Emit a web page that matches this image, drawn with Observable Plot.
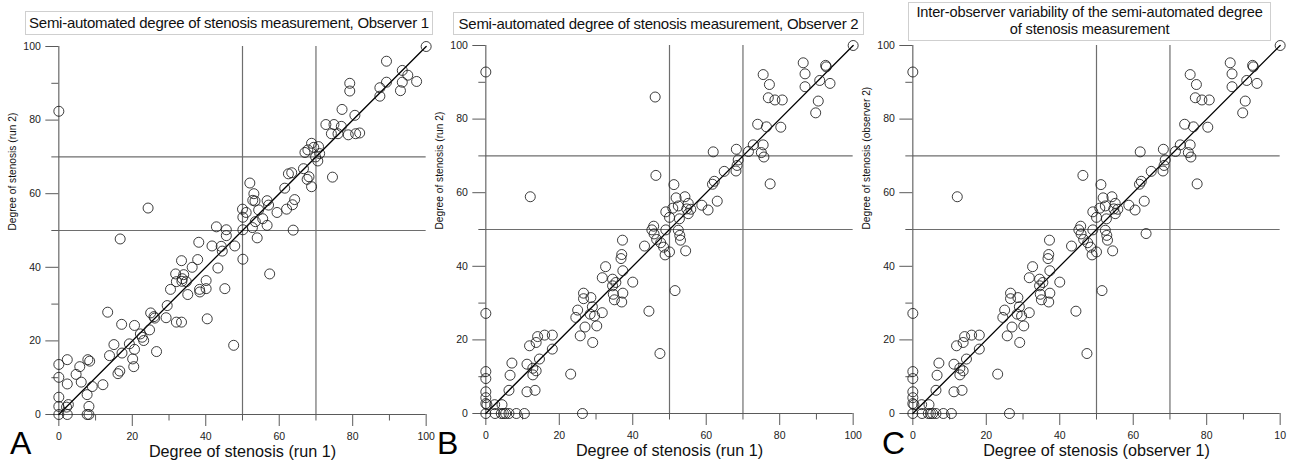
<!DOCTYPE html>
<html>
<head>
<meta charset="utf-8">
<script src="https://cdn.jsdelivr.net/npm/d3@7"></script>
<script src="https://cdn.jsdelivr.net/npm/@observablehq/plot@0.6"></script>
<style>
  html, body { margin: 0; padding: 0; background: #fff; }
  #wrap { position: relative; width: 1291px; height: 468px; overflow: hidden; font-family: "Liberation Sans", Arial, Helvetica, sans-serif; }
  .panel { position: absolute; }
  .title { position: absolute; box-sizing: border-box; border: 1px solid #cfcfcf; background: #fff; color: #111;
           font-size: 15px; letter-spacing: -0.27px; text-align: center; white-space: nowrap; }
  .letter { position: absolute; font-size: 32px; line-height: 32px; color: #000; }
</style>
</head>
<body>
<div id="wrap"></div>
<script>
// ---------- data ----------
// Panel A: Observer 1, run 1 (x) vs run 2 (y)
const obs1Run1 = [0,24.3,16.7,100,89.2,93.5,95.0,97.4,89.2,93.5,93.0,87.4,87.4,79.2,79.2,77.1,80.6,
  72.7,74.9,76.9,74.2,76.0,78.8,80.8,81.9,68.8,70.7,69.4,67.8,67.0,71.0,69.9,70.5,
  74.5,66.6,68.1,67.6,68.8,62.5,63.4,61.5,64.2,63.6,62.0,59.4,63.8,
  56.7,57.1,54.4,55.5,56.7,52.0,53.1,52.8,53.4,50.0,51.0,50.1,53.5,52.7,50.1,54.0,
  42.9,45.6,45.6,38.1,41.7,44.2,44.5,47.9,50.1,57.4,
  33.4,36.3,37.8,31.8,34.0,32.0,33.6,33.5,34.7,30.4,35.1,38.3,38.4,40.1,40.1,43.3,45.2,
  29.5,29.2,32.0,33.4,40.4,47.6,25.0,25.9,26.1,24.7,
  13.3,17.1,20.6,22.2,22.7,23.1,26.6,15.0,13.8,19.2,20.6,17.2,20.1,20.4,16.6,16.1,
  0,2.3,0,2.3,5.7,4.7,6.1,7.9,8.4,9.1,12.0,7.7,8.2,0,0,0,2.3,2.6,2.1,7.7,8.2];
const obs1Run2 = [82.4,56.1,47.7,100,96.0,93.5,92.2,90.5,90.3,90.3,88.0,88.8,86.5,90.0,87.9,82.9,81.3,
  78.8,78.8,78.3,76.3,76.3,76.0,76.3,76.5,73.7,72.8,72.6,71.9,71.2,70.9,70.0,68.9,
  64.5,66.8,64.6,63.9,61.9,65.4,65.7,61.5,58.4,57.0,55.8,54.9,50.1,
  58.1,56.9,55.6,53.2,51.4,62.9,60.0,58.2,58.0,55.8,54.9,53.6,52.4,50.8,50.2,48.0,
  51.0,50.2,48.6,46.8,45.8,45.7,44.4,45.8,42.2,38.2,
  41.8,40.0,42.1,38.2,38.0,36.1,36.9,36.2,36.1,34.0,32.6,34.0,33.3,36.4,34.2,39.8,34.2,
  29.6,26.3,25.1,25.1,26.0,18.8,27.6,26.6,26.2,23.0,
  27.8,24.5,24.2,21.9,21.0,20.1,17.1,19.0,16.0,19.2,17.7,16.7,15.1,13.0,11.8,11.1,
  13.6,14.9,10.1,8.3,13.0,10.9,8.8,14.9,14.5,7.6,8.1,5.4,2.2,4.7,2.2,0,0,2.7,2.0,0,0];

// Panel B: Observer 2, run 1 (x) vs run 2 (y)
const obs2Run1 = [0,46.1,12.1,46.3,100,86.4,86.9,86.9,92.5,92.7,90.9,93.7,90.5,89.8,
  75.5,77.2,76.9,78.7,80.7,80.3,74.0,76.4,72.8,75.5,71.5,75.0,75.7,77.4,
  68.2,61.9,68.7,68.4,68.1,64.9,62.2,61.7,63.0,58.8,60.5,
  51.2,51.8,54.2,55.1,52.4,50.9,54.7,55.8,55.1,49.0,50.0,52.7,
  45.7,45.2,45.8,49.0,52.4,52.8,53.0,54.4,
  37.2,43.2,46.5,47.6,48.4,48.8,50.0,51.5,44.4,47.4,40.0,
  37.0,36.8,37.3,32.6,31.7,34.5,35.4,34.5,34.7,35.0,37.3,37.0,
  26.6,26.6,28.6,29.0,28.4,29.6,31.7,30.2,29.1,25.0,24.5,27.0,25.7,23.1,26.3,
  14.1,16.0,18.1,11.9,13.7,18.1,14.6,11.2,12.8,13.7,12.8,11.2,13.4,7.1,6.6,6.3,
  0,0,0,0,0,0,0.3,0,2.4,4.4,2.5,4.2,4.8,5.4,6.3,8.3,10.5];
const obs2Run2 = [92.8,86.0,58.9,64.7,100,95.3,92.3,88.8,94.6,94.2,90.5,89.7,84.9,81.7,
  92.1,89.4,85.8,85.2,85.2,77.8,78.6,77.9,73.0,73.0,71.2,70.9,69.7,62.4,
  71.8,71.1,68.9,67.4,65.9,65.8,63.1,62.3,57.7,56.6,55.3,
  62.2,58.6,58.9,57.1,56.4,55.8,55.6,55.5,54.3,54.8,53.3,52.9,
  50.9,49.9,48.8,49.9,49.8,48.4,47.1,44.2,
  47.1,45.5,47.3,46.4,45.2,43.1,43.9,33.4,27.8,16.3,35.7,
  43.2,42.1,38.8,39.9,36.9,36.5,35.6,34.7,32.4,30.9,32.7,30.3,
  32.7,31.2,31.5,29.0,27.0,26.5,27.4,23.8,19.3,28.1,26.1,23.5,21.1,10.7,0,
  20.9,21.3,21.3,18.4,19.3,17.5,14.8,13.4,12.3,11.6,10.5,5.9,6.3,13.7,10.4,6.3,
  27.2,11.4,9.5,5.9,4.3,2.7,2.4,0,2.4,2.4,0,0,0,0,0,0,0];

// Panel C: inter-observer, observer 1 (x) vs observer 2 (y)
const interObs1 = [0,63.5,12.1,46.3,100,86.4,86.9,86.9,92.5,92.7,90.9,93.7,90.5,89.8,
  75.5,77.2,76.9,78.7,80.7,80.3,74.0,76.4,72.8,75.5,71.5,75.0,75.7,77.4,
  68.2,61.9,68.7,68.4,68.1,64.9,62.2,61.7,63.0,58.8,60.5,
  51.2,51.8,54.2,55.1,52.4,50.9,54.7,55.8,55.1,49.0,50.0,52.7,
  45.7,45.2,45.8,49.0,52.4,52.8,53.0,54.4,
  37.2,43.2,46.5,47.6,48.4,48.8,50.0,51.5,44.4,47.4,40.0,
  37.0,36.8,37.3,32.6,31.7,34.5,35.4,34.5,34.7,35.0,37.3,37.0,
  26.6,26.6,28.6,29.0,28.4,29.6,31.7,30.2,29.1,25.0,24.5,27.0,25.7,23.1,26.3,
  14.1,16.0,18.1,11.9,13.7,18.1,14.6,11.2,12.8,13.7,12.8,11.2,13.4,7.1,6.6,6.3,
  0,0,0,0,0,0,0.3,0,2.4,4.4,2.5,4.2,4.8,5.4,6.3,8.3,10.5];
const interObs2 = [92.8,48.9,58.9,64.7,100,95.3,92.3,88.8,94.6,94.2,90.5,89.7,84.9,81.7,
  92.1,89.4,85.8,85.2,85.2,77.8,78.6,77.9,73.0,73.0,71.2,70.9,69.7,62.4,
  71.8,71.1,68.9,67.4,65.9,65.8,63.1,62.3,57.7,56.6,55.3,
  62.2,58.6,58.9,57.1,56.4,55.8,55.6,55.5,54.3,54.8,53.3,52.9,
  50.9,49.9,48.8,49.9,49.8,48.4,47.1,44.2,
  47.1,45.5,47.3,46.4,45.2,43.1,43.9,33.4,27.8,16.3,35.7,
  43.2,42.1,38.8,39.9,36.9,36.5,35.6,34.7,32.4,30.9,32.7,30.3,
  32.7,31.2,31.5,29.0,27.0,26.5,27.4,23.8,19.3,28.1,26.1,23.5,21.1,10.7,0,
  20.9,21.3,21.3,18.4,19.3,17.5,14.8,13.4,12.3,11.6,10.5,5.9,6.3,13.7,10.4,6.3,
  27.2,11.4,9.5,5.9,4.3,2.7,2.4,0,2.4,2.4,0,0,0,0,0,0,0];

const majorTicks = [0, 20, 40, 60, 80, 100];
const minorTicks = [10, 30, 50, 70, 90];
const tickLabels = ["0", "20", "40", "60", "80", "100"];
const tickLabelsC = ["0", "20", "40", "60", "80", "10"];
const thresholds = [50, 70];
const identity = [0, 100];

const titles = [
  "Semi-automated degree of stenosis measurement, Observer 1",
  "Semi-automated degree of stenosis measurement, Observer 2",
  "Inter-observer variability of the semi-automated degree<br>of stenosis measurement"
];
const xTitles = ["Degree of stenosis (run 1)", "Degree of stenosis (run 1)", "Degree of stenosis (observer 1)"];
const yTitles = ["Degree of stenosis (run 2)", "Degree of stenosis (run 2)", "Degree of stenosis (observer 2)"];
const letters = ["A", "B", "C"];

// ---------- layout ----------
const panels = [
  {xs: obs1Run1, ys: obs1Run2, labels: tickLabels,  left: 0,      top: 0,
   title: {left: 25,  top: 11, width: 408, height: 24, lh: 22}, letter: 10},
  {xs: obs2Run1, ys: obs2Run2, labels: tickLabels,  left: 427.33, top: -1.5,
   title: {left: 453, top: 12, width: 411, height: 23, lh: 21}, letter: 437},
  {xs: interObs1, ys: interObs2, labels: tickLabelsC, left: 854,  top: -0.7,
   title: {left: 908, top: 2, width: 363, height: 39, lh: 17}, letter: 882}
];

const wrap = document.getElementById("wrap");
const AX = "#5a5a5a";

panels.forEach((p, k) => {
  const pts = p.xs.map((x, i) => ({x, y: p.ys[i]}));
  const xLabelMap = new Map(majorTicks.map((t, i) => [t, p.labels[i]]));
  const yLabelMap = new Map(majorTicks.map((t, i) => [t, tickLabels[i]]));
  const chart = Plot.plot({
    width: 430,
    height: 468,
    marginLeft: 58.33,
    marginRight: 4.34,
    marginTop: 46,
    marginBottom: 54,
    style: {fontFamily: "'Liberation Sans', Arial, Helvetica, sans-serif", fontSize: "10.5px", color: "#222", background: "transparent", overflow: "visible"},
    x: {domain: [0, 100]},
    y: {domain: [0, 100]},
    marks: [
      Plot.ruleY(thresholds, {stroke: "#6e6e6e", strokeWidth: 1.2}),
      Plot.ruleX(thresholds, {stroke: "#6e6e6e", strokeWidth: 1.2}),
      Plot.ruleX([0], {stroke: AX, strokeWidth: 1.1}),
      Plot.ruleY([0], {stroke: AX, strokeWidth: 1.1}),
      Plot.axisX(majorTicks, {tickSize: 12, tickPadding: 6.5, stroke: AX, label: null, tickFormat: d => xLabelMap.get(d)}),
      Plot.axisX(minorTicks, {tickSize: 6.5, stroke: AX, label: null, tickFormat: () => null}),
      Plot.axisY(majorTicks, {tickSize: 13, tickPadding: 5, stroke: AX, label: null, tickFormat: d => yLabelMap.get(d)}),
      Plot.axisY(minorTicks, {tickSize: 7, stroke: AX, label: null, tickFormat: () => null}),
      Plot.line(identity, {x: d => d, y: d => d, stroke: "#000", strokeWidth: 1.3}),
      Plot.dot(pts, {x: "x", y: "y", r: 5, stroke: "#1a1a1a", strokeWidth: 0.85, fill: "none"}),
      Plot.text([xTitles[k]], {text: d => d, frameAnchor: "bottom", dy: 42.5, fontSize: 16.2, fill: "#111"}),
      Plot.text([yTitles[k]], {text: d => d, frameAnchor: "left", dx: -45.8, rotate: -90, fontSize: 10.2, fill: "#111"})
    ]
  });
  const holder = document.createElement("div");
  holder.className = "panel";
  holder.style.left = p.left + "px";
  holder.style.top = p.top + "px";
  holder.appendChild(chart);
  wrap.appendChild(holder);

  const t = document.createElement("div");
  t.className = "title";
  t.style.left = p.title.left + "px";
  t.style.top = p.title.top + "px";
  t.style.width = p.title.width + "px";
  t.style.height = p.title.height + "px";
  t.style.lineHeight = p.title.lh + "px";
  t.innerHTML = titles[k];
  if (k === 2) { t.style.fontSize = "14.6px"; t.style.letterSpacing = "-0.15px"; t.style.paddingTop = "1px"; }
  wrap.appendChild(t);

  const l = document.createElement("div");
  l.className = "letter";
  l.style.left = p.letter + "px";
  l.style.top = "427px";
  l.textContent = letters[k];
  wrap.appendChild(l);
});
</script>
</body>
</html>
